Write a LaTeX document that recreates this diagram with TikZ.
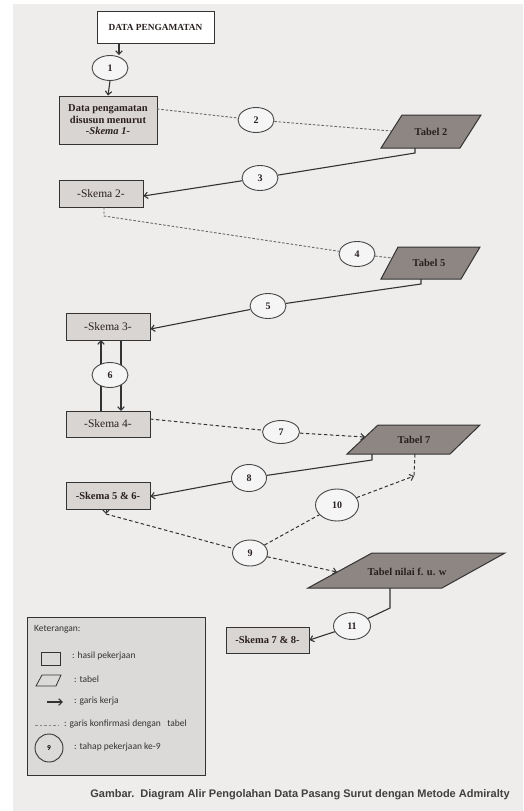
\documentclass[tikz,border=0pt]{standalone}
\usepackage{fontspec}
\setmainfont{Liberation Serif}
\newfontfamily\legfont{Carlito}
\newfontfamily\capfont{Liberation Sans}
\usetikzlibrary{arrows.meta,shapes.geometric,calc}
\definecolor{bgc}{HTML}{EEEDEC}
\definecolor{boxc}{HTML}{D9D5D3}
\definecolor{tabc}{HTML}{8E8682}
\definecolor{linec}{HTML}{333333}
\definecolor{txtc}{HTML}{2A2020}
\definecolor{legc}{HTML}{DCDAD8}
\begin{document}
\begin{tikzpicture}[x=1pt,y=-1pt,
  box/.style={draw=linec,line width=1pt,fill=boxc,inner sep=1pt,align=center,text=txtc,font=\fontsize{11.5}{13}\selectfont},
  num/.style={ellipse,draw=linec!90,line width=0.9pt,fill=white!96!black,minimum width=36pt,minimum height=25pt,inner sep=0pt,font=\bfseries\fontsize{10}{11}\selectfont,text=txtc},
  tab/.style={draw=linec,line width=1pt,fill=tabc},
  tabtxt/.style={font=\bfseries\fontsize{10.5}{12}\selectfont,text=txtc},
  work/.style={draw=linec,line width=1.1pt},
  arr/.style={-{Straight Barb[length=3.5pt,width=6.5pt]}},
  confa/.style={draw=linec!75,line width=0.9pt,dash pattern=on 2.5pt off 1.8pt},
  confb/.style={draw=linec,line width=1pt,dash pattern=on 3.5pt off 2.5pt},
  legtxt/.style={anchor=west,inner sep=0pt,font=\legfont\fontsize{9.5}{11}\selectfont,text=black!80}
]
\useasboundingbox (0,0) rectangle (523,811);
\fill[white] (0,0) rectangle (523,811);
\fill[bgc] (13,4) rectangle (523,811);

% boxes
\node[box,fill=white,minimum width=117pt,minimum height=32pt,font=\bfseries\fontsize{9.3}{11}\selectfont] (dp) at (155.5,27) {DATA PENGAMATAN};
\node[box,minimum width=98pt,minimum height=48pt,font=\bfseries\fontsize{10.5}{11.5}\selectfont] (s1) at (108,120) {Data pengamatan\\disusun menurut\\\textit{-Skema 1-}};
\node[box,minimum width=84pt,minimum height=27pt] (s2) at (101,193.5) {-Skema 2-};
\node[box,minimum width=84pt,minimum height=27pt] (s3) at (108,326.5) {-Skema 3-};
\node[box,minimum width=84pt,minimum height=26pt] (s4) at (108,424) {-Skema 4-};
\node[box,minimum width=84pt,minimum height=27pt,font=\bfseries\fontsize{10.5}{12}\selectfont] (s56) at (108,495.5) {-Skema 5 \& 6-};
\node[box,minimum width=83pt,minimum height=26pt,font=\bfseries\fontsize{10.5}{12}\selectfont] (s78) at (267.5,640) {-Skema 7 \& 8-};

% tables
\draw[tab] (402,115) -- (481,115) -- (460,148) -- (381,148) -- cycle;
\node[tabtxt] (t2) at (431,132) {Tabel 2};
\draw[tab] (398,247) -- (480,247) -- (461,279) -- (381,279) -- cycle;
\node[tabtxt] (t5) at (429,263) {Tabel 5};
\draw[tab] (378,425) -- (480,425) -- (450,454) -- (347,454) -- cycle;
\node[tabtxt] (t7) at (414,440) {Tabel 7};
\draw[tab] (372,553) -- (505,553) -- (442,588) -- (308,588) -- cycle;
\node[tabtxt] (tf) at (407,572) {Tabel nilai f. u. w};

% attachment points
\coordinate (a1) at (119,43);
\coordinate (s1e) at (157,109);
\coordinate (t2w) at (391,131);
\coordinate (t2b) at (415,148);
\coordinate (t2bb) at (415,153);
\coordinate (s2b) at (104,207);
\coordinate (s2bb) at (104,216);
\coordinate (t5w) at (392,258);
\coordinate (t5b) at (421,279);
\coordinate (t5bb) at (421,284);
\coordinate (s3l) at (101,340);
\coordinate (s3r) at (121,340);
\coordinate (s4l) at (101,411);
\coordinate (s4r) at (121,411);
\coordinate (s4e) at (150,419);
\coordinate (t7w) at (365,437);
\coordinate (t7b) at (372,454);
\coordinate (t7bb) at (372,460);
\coordinate (t7d) at (415,454);
\coordinate (c10) at (414,476);
\coordinate (s56b) at (106,509);
\coordinate (s56bb) at (106,514);
\coordinate (tfw) at (337,572);
\coordinate (tfb) at (390,588);
\coordinate (tfbb) at (390,608);

% step 6 lines (behind circle 6)
\draw[work,arr] (s4l) -- (s3l);
\draw[work,arr] (s3r) -- (s4r);

% step circles
\node[num] (n1) at (110,68) {1};
\node[num] (n2) at (256,120) {2};
\node[num] (n3) at (260,178) {3};
\node[num] (n4) at (357,254) {4};
\node[num] (n5) at (268,306) {5};
\node[num] (n6) at (110,375) {6};
\node[num,minimum width=37pt,minimum height=23pt] (n7) at (281,432) {7};
\node[num,minimum width=35pt,minimum height=27pt] (n8) at (249,478) {8};
\node[num,minimum width=35pt,minimum height=26pt] (n9) at (250,553) {9};
\node[num,minimum width=43pt,minimum height=32pt] (n10) at (337,505) {10};
\node[num,minimum width=37pt,minimum height=27pt] (n11) at (352,626) {11};

% connectors
\draw[work,arr] (a1) -- (a1 |- n1.north);
\draw[work,arr] (n1.south) -- (s1.north);
\draw[confa] (s1e) -- (n2) -- (t2w);
\draw[work] (t2b) -- (t2bb) -- (n3);
\draw[work,arr] (n3) -- ([yshift=-2.5pt]s2.east);
\draw[confa] (s2b) -- (s2bb) -- (n4) -- (t5w);
\draw[work] (t5b) -- (t5bb) -- (n5);
\draw[work,arr] (n5) -- ([yshift=-2.5pt]s3.east);
\draw[confb] (s4e) -- (n7);
\draw[confb,arr] (n7) -- (t7w);
\draw[work] (t7b) -- (t7bb) -- (n8);
\draw[work,arr] (n8) -- ([yshift=-1pt]s56.east);
\draw[confb,arr] (s56b) -- (s56bb);
\draw[confb] (s56bb) -- (n9);
\draw[confb] (n9) -- (n10);
\draw[confb] (t7d) -- (c10);
\draw[confb,arr] (n10) -- (c10);
\draw[confb,arr] (n9) -- (tfw);
\draw[work] (tfb) -- (tfbb) -- (n11);
\draw[work,arr] (n11) -- (s78.east);

% legend
\node[draw=linec,line width=1pt,fill=legc,minimum width=178pt,minimum height=158pt,inner sep=0pt] (leg) at (116,696) {};
\node[legtxt] (lk) at (34,629) {Keterangan:};
\node[draw=linec,line width=0.8pt,minimum width=19pt,minimum height=13pt,inner sep=0pt] (lr) at (50.5,659) {};
\node[legtxt] (lrt) at (72,656) {: hasil pekerjaan};
\draw[draw=linec,line width=0.8pt] (42,675) -- (61,675) -- (56,686) -- (36,686) -- cycle;
\node[legtxt] (lpt) at (74,679) {: tabel};
\coordinate (la1) at (47,702);
\coordinate (la2) at (63,702);
\draw[work,arr] (la1) -- (la2);
\node[legtxt] (lat) at (74,701) {: garis kerja};
\coordinate (ld1) at (35,725);
\coordinate (ld2) at (59,725);
\draw[draw=linec!60,line width=0.9pt,dash pattern=on 2.5pt off 2pt] (ld1) -- (ld2);
\node[legtxt] (ldt) at (64,724) {: garis konfirmasi dengan \ \ tabel};
\node[ellipse,draw=linec,line width=0.9pt,minimum width=28pt,minimum height=28pt,inner sep=0pt,font=\legfont\bfseries\fontsize{7.5}{8}\selectfont] (lc) at (49,748) {9};
\node[legtxt] (lct) at (74,747) {: tahap pekerjaan ke-9};

% caption
\node[font=\capfont\bfseries\fontsize{11}{13}\selectfont,text=black!75,inner sep=0pt] (cap) at (300,795) {Gambar.\ \ Diagram Alir Pengolahan Data Pasang Surut dengan Metode Admiralty};
\end{tikzpicture}
\end{document}
